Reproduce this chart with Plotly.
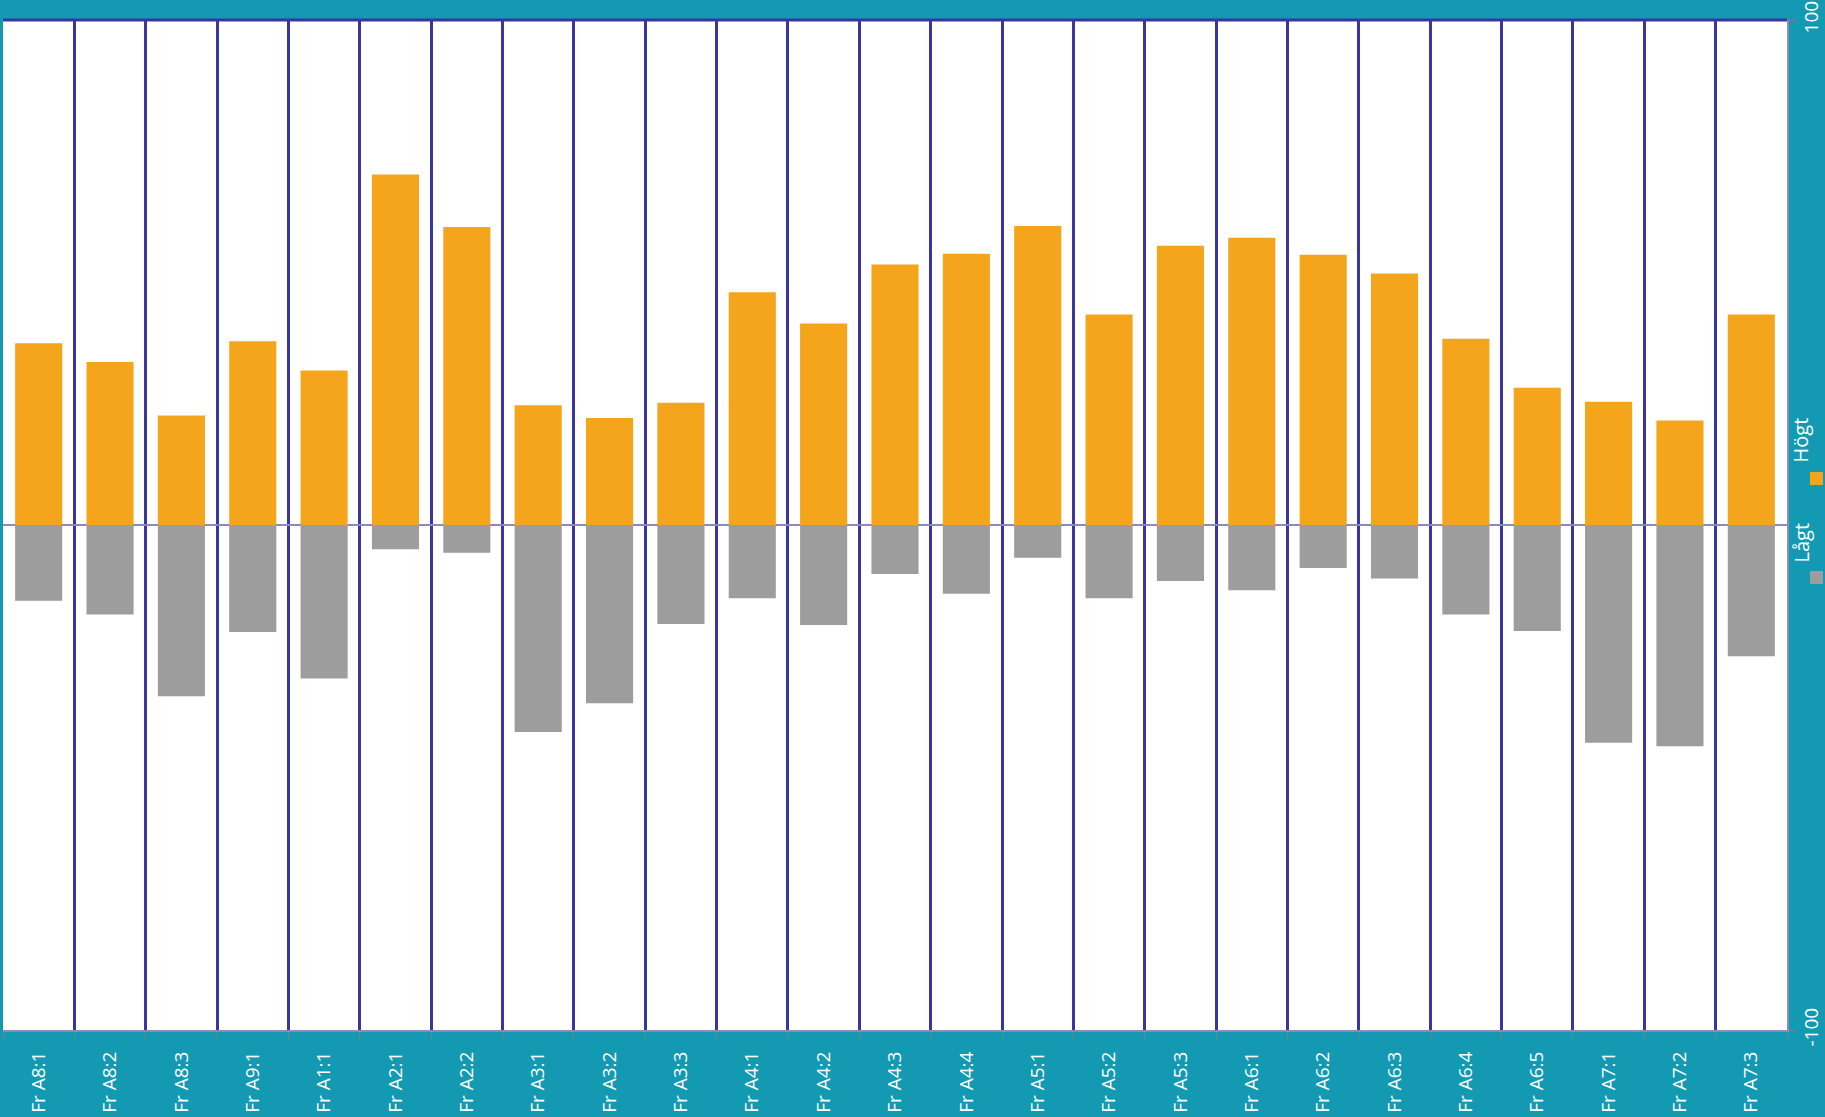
import plotly.graph_objects as go

categories = ["Fr A8:1", "Fr A8:2", "Fr A8:3", "Fr A9:1", "Fr A1:1", "Fr A2:1", "Fr A2:2",
              "Fr A3:1", "Fr A3:2", "Fr A3:3", "Fr A4:1", "Fr A4:2", "Fr A4:3", "Fr A4:4",
              "Fr A5:1", "Fr A5:2", "Fr A5:3", "Fr A6:1", "Fr A6:2", "Fr A6:3", "Fr A6:4",
              "Fr A6:5", "Fr A7:1", "Fr A7:2", "Fr A7:3"]
hogt = [36, 32.3, 21.7, 36.4, 30.6, 69.4, 59.0, 23.7, 21.2, 24.2, 46.1, 39.9, 51.6, 53.7,
        59.2, 41.7, 55.3, 56.9, 53.5, 49.8, 36.9, 27.2, 24.4, 20.7, 41.7]
lagt = [-15.0, -17.7, -33.9, -21.2, -30.4, -4.8, -5.5, -41.0, -35.3, -19.6, -14.5, -19.8,
        -9.7, -13.6, -6.5, -14.5, -11.1, -12.9, -8.5, -10.6, -17.7, -21.0, -43.1, -43.8, -26.0]
y_ticks = [-100, 100]

BG = "#1399B2"
ORANGE = "#F5A51B"
GREY = "#9D9D9D"
GRID = "#3A36A0"
LIGHT = "#8B89C4"
FONT = "Open Sans"

fig = go.Figure()
fig.add_trace(go.Bar(x=categories, y=lagt, name="Lågt", marker_color=GREY, marker_line_width=0))
fig.add_trace(go.Bar(x=categories, y=hogt, name="Högt", marker_color=ORANGE, marker_line_width=0))

fig.update_layout(
    width=1825, height=1117,
    margin=dict(l=3, r=38, t=20, b=87, autoexpand=False),
    paper_bgcolor=BG, plot_bgcolor="white",
    barmode="relative", bargap=0.34,
    showlegend=False,
    font=dict(family=FONT, color="white", size=19),
)
fig.update_xaxes(
    type="category", tickson="boundaries",
    showgrid=True, gridcolor=GRID, gridwidth=3,
    showline=True, linecolor=LIGHT, linewidth=2,
    ticks="outside", ticklen=6, tickcolor="#7f7f7f", tickwidth=1,
    tickangle=-90, tickfont=dict(family=FONT, size=19, color="white"),
    ticklabelstandoff=12, automargin=False,
)
fig.update_yaxes(
    range=[-100, 100], side="right", tickvals=y_ticks, ticktext=[str(v) for v in y_ticks],
    showgrid=False, zeroline=True, zerolinecolor=LIGHT, zerolinewidth=1.5,
    showline=True, linecolor=LIGHT, linewidth=2,
    ticks="outside", ticklen=6, tickcolor="#7f7f7f", tickwidth=1,
    tickangle=-90, tickfont=dict(family=FONT, size=19, color="white"),
    ticklabeloverflow="allow", automargin=False,
)
# top border
fig.add_shape(type="line", xref="paper", yref="paper", x0=0, x1=1, y0=1, y1=1,
              line=dict(color=GRID, width=3))

# rotated legend (plot area spans 1784 x 1010 px)
legend_items = [("Högt", ORANGE, 478, 440), ("Lågt", GREY, 577, 543)]
for label, col, sq_y, txt_y in legend_items:
    fig.add_shape(type="rect", xref="paper", yref="paper",
                  x0=1 + 23 / 1784, x1=1 + 36 / 1784,
                  y0=1 - (sq_y + 7 - 20) / 1010, y1=1 - (sq_y - 6 - 20) / 1010,
                  fillcolor=col, line_width=0)
    fig.add_annotation(text=label, xref="paper", yref="paper",
                       x=1 + 29 / 1784, y=1 - (txt_y - 20) / 1010,
                       showarrow=False, textangle=-90,
                       font=dict(family=FONT, size=20, color="white"))

fig.write_html("out.html", config={"displayModeBar": False},
               post_script="document.body.style.margin='0';document.body.style.overflow='hidden';")
